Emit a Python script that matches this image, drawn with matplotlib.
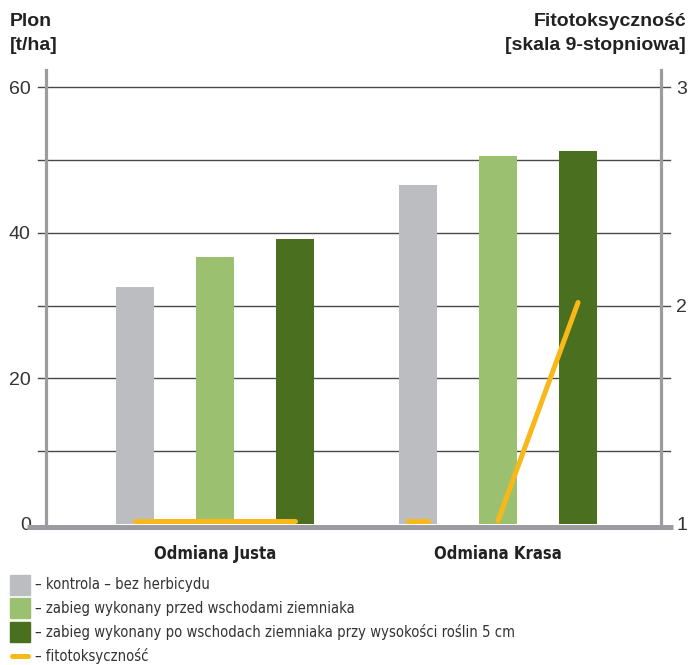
import matplotlib
matplotlib.use("Agg")
import matplotlib.pyplot as plt
import matplotlib.transforms as mtransforms
from matplotlib.patches import Rectangle
from matplotlib.lines import Line2D

# Data
varieties = ["Odmiana Justa", "Odmiana Krasa"]
treatments = [
    "– kontrola – bez herbicydu",
    "– zabieg wykonany przed wschodami ziemniaka",
    "– zabieg wykonany po wschodach ziemniaka przy wysokości roślin 5 cm",
]
yield_kontrola = [32.6, 46.5]
yield_przed = [36.7, 50.5]
yield_po = [39.1, 51.2]
fito_justa = [1.0, 1.0, 1.0]
fito_krasa = [1.0, 1.0, 2.0]
fito_label = "– fitotoksyczność"

bar_colors = ["#bcbdc1", "#9bc170", "#4a6f1e"]
line_color = "#f8b81a"
axis_gray = "#9c9ca0"
text_color = "#333333"

W, H = 691, 665
fig = plt.figure(figsize=(W / 100, H / 100), dpi=100)

ax_left, ax_right, ax_bottom, ax_top = 46, 661, 524, 70
ax = fig.add_axes([ax_left / W, 1 - ax_bottom / H,
                   (ax_right - ax_left) / W, (ax_bottom - ax_top) / H])

px_per_unit = (ax_bottom - 87) / 60
y_top = 60 + (87 - ax_top) / px_per_unit
ax.set_ylim(0, y_top)
ax.set_xlim(-0.597, 1.576)

offset = 0.283
width = 0.134
centers = list(range(len(varieties)))
series = [yield_kontrola, yield_przed, yield_po]
for i, values in enumerate(series):
    xs = [c + (i - 1) * offset for c in centers]
    ax.bar(xs, values, width=width, color=bar_colors[i], zorder=3)

# Gridlines extending through both axes as tick marks
blend = mtransforms.blended_transform_factory(ax.transAxes, ax.transData)
x0 = -(ax_left - 38) / (ax_right - ax_left)
x1 = 1 + (670 - ax_right) / (ax_right - ax_left)
for v in range(10, 61, 10):
    ax.plot([x0, x1], [v, v], color="#484848", lw=1.0, transform=blend,
            clip_on=False, zorder=1)

# Thick baseline, just below the bars
base = blend + mtransforms.ScaledTranslation(0, -2.5 / 72, fig.dpi_scale_trans)
ax.plot([-(ax_left - 27) / (ax_right - ax_left), 1 + (673 - ax_right) / (ax_right - ax_left)],
        [0, 0], color=axis_gray, lw=3.6, transform=base, clip_on=False,
        solid_capstyle="butt", zorder=2)

for side in ["top", "bottom"]:
    ax.spines[side].set_visible(False)
for side in ["left", "right"]:
    ax.spines[side].set_color(axis_gray)
    ax.spines[side].set_linewidth(2.3)

ax.set_yticks([0, 20, 40, 60])
ax.tick_params(axis="y", length=0, pad=11, labelsize=14, labelcolor=text_color)
for lab in ax.get_yticklabels():
    lab.set_family("Liberation Sans")
ax.set_xticks(centers)
ax.set_xticklabels(varieties, fontsize=12, fontweight="bold",
                   family="DejaVu Sans", fontstretch="condensed", color="#222222")
ax.tick_params(axis="x", length=0, pad=15)

# Right axis: fitotoksyczność
ax2 = ax.twinx()
ax2.set_ylim(1, 1 + y_top / 30)
ax2.set_xlim(ax.get_xlim())
for side in ["top", "bottom", "left", "right"]:
    ax2.spines[side].set_visible(False)
ax2.set_yticks([1, 2, 3])
ax2.tick_params(axis="y", length=0, pad=11, labelsize=14, labelcolor=text_color)
for lab in ax2.get_yticklabels():
    lab.set_family("Liberation Sans")

# line sits just above the baseline
lift = ax2.transData + mtransforms.ScaledTranslation(0, 2.2 / 72, fig.dpi_scale_trans)
justa_x = [centers[0] + (i - 1) * offset for i in range(3)]
krasa_x = [centers[1] + (i - 1) * offset for i in range(3)]
ax2.plot(justa_x, fito_justa, color=line_color, lw=3.6,
         solid_capstyle="round", zorder=5, transform=lift)
ax2.plot(krasa_x[0], fito_krasa[0], marker="_", ms=17, mew=3.6,
         color=line_color, zorder=5, transform=lift)
ax2.plot(krasa_x[1:], fito_krasa[1:], color=line_color, lw=3.6,
         solid_capstyle="round", zorder=5, transform=lift)

# Axis titles
title_font = dict(fontsize=14, fontweight="bold", family="Liberation Sans",
                  color="#222222", va="center")
fig.text(10 / W, 1 - 22 / H, "Plon", **title_font)
fig.text(10 / W, 1 - 46 / H, "[t/ha]", **title_font)
fig.text(686 / W, 1 - 22 / H, "Fitotoksyczność", ha="right", **title_font)
fig.text(686 / W, 1 - 46 / H, "[skala 9-stopniowa]", ha="right", **title_font)

# Legend
legend_font = dict(fontsize=10.6, color=text_color, family="DejaVu Sans",
                   fontstretch="condensed", va="center")
rows_y = [585, 608, 632, 656]
for i, label in enumerate(treatments):
    y = rows_y[i]
    fig.patches.append(Rectangle((10 / W, 1 - (y + 10) / H), 20 / W, 20 / H,
                                 color=bar_colors[i], transform=fig.transFigure))
    fig.text(35 / W, 1 - y / H, label, **legend_font)
y = rows_y[3]
fig.lines.append(Line2D([12 / W, 28 / W], [1 - y / H, 1 - y / H], color=line_color,
                        lw=3.6, solid_capstyle="round", transform=fig.transFigure))
fig.text(35 / W, 1 - y / H, fito_label, **legend_font)

fig.savefig("out.png", dpi=100)
